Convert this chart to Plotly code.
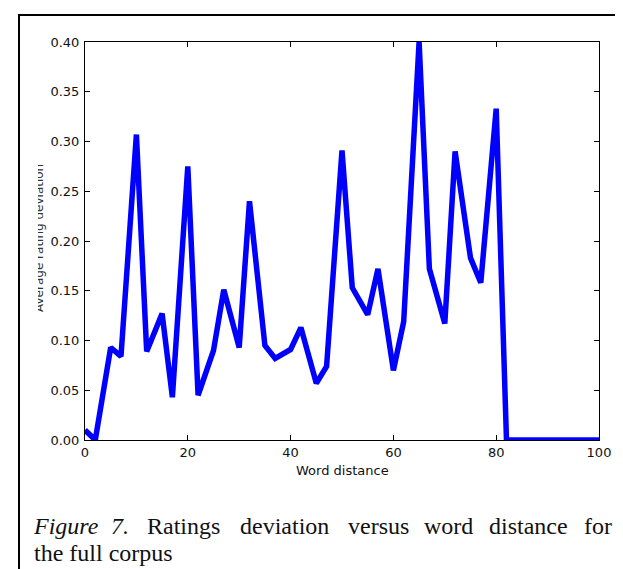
import plotly.graph_objects as go

# ---- data ----
word_distance = [0, 2, 5, 7, 10, 12, 15, 17, 20, 22, 25, 27, 30, 32, 35, 37, 40, 42, 45, 47,
                 50, 52, 55, 57, 60, 62, 65, 67, 70, 72, 75, 77, 80, 82, 85, 87, 90, 92, 95, 97, 100]
rating_deviation = [0.010, 0.000, 0.093, 0.084, 0.307, 0.089, 0.127, 0.043, 0.275, 0.045,
                    0.090, 0.151, 0.093, 0.240, 0.095, 0.082, 0.091, 0.113, 0.057, 0.074,
                    0.291, 0.153, 0.126, 0.172, 0.070, 0.119, 0.400, 0.172, 0.117, 0.290,
                    0.183, 0.158, 0.333, 0.000, 0.000, 0.000, 0.000, 0.000, 0.000, 0.000, 0.000]
x_ticks = [0, 20, 40, 60, 80, 100]
y_ticks = [0.00, 0.05, 0.10, 0.15, 0.20, 0.25, 0.30, 0.35, 0.40]
x_label = "Word distance"
y_label = "Average rating deviation"
caption_line1 = ["<i>Figure</i>", "<i>7.</i>", "Ratings", "deviation", "versus", "word", "distance", "for"]
caption_line2 = "the full corpus"

W, H = 623, 569
L, R, T, B = 77, 591, 34, 432          # plot area in pixels
PW, PH = R - L, B - T

def px(x):
    return (x - L) / PW

def py(y):
    return (B - y) / PH

fig = go.Figure()
fig.add_trace(go.Scatter(x=word_distance, y=rating_deviation, mode="lines",
                         line=dict(color="#0000ff", width=5.5), showlegend=False,
                         hoverinfo="skip"))

tickfont = dict(family="DejaVu Sans", size=13, color="#111111")
axis_common = dict(showline=True, linecolor="black", linewidth=1, mirror="ticks",
                   ticks="inside", ticklen=5, tickwidth=1, tickcolor="black",
                   showgrid=False, zeroline=False, tickfont=tickfont)
fig.update_xaxes(range=[0, 100], tickvals=x_ticks, ticktext=[str(v) for v in x_ticks],
                 **axis_common)
fig.update_yaxes(range=[0, 0.4], tickvals=y_ticks, ticktext=[f"{v:.2f}" for v in y_ticks],
                 ticklabelstandoff=2, **axis_common)

annotations = []
annotations.append(dict(text=x_label, xref="paper", yref="paper", x=px(334), y=py(462),
                        xanchor="center", yanchor="middle", showarrow=False,
                        font=dict(family="DejaVu Sans", size=13, color="#111111")))
annotations.append(dict(text=y_label, xref="paper", yref="paper", x=px(31), y=py(230),
                        xanchor="center", yanchor="middle", showarrow=False, textangle=-90,
                        font=dict(family="DejaVu Sans", size=12, color="#333333")))
# cover (cropped) upper half of the y label glyphs
annotations.append(dict(text=" ", xref="paper", yref="paper", x=px(27), y=py(230),
                        xanchor="center", yanchor="middle", showarrow=False,
                        width=6, height=175, bgcolor="white", borderpad=0, borderwidth=0,
                        font=dict(size=2)))

word_centers = [58, 112, 175, 276, 370, 440, 520, 590]
for w, cx in zip(caption_line1, word_centers):
    annotations.append(dict(text=w, xref="paper", yref="paper", x=px(cx), y=py(518),
                            xanchor="center", yanchor="middle", showarrow=False,
                            font=dict(family="Liberation Serif", size=24, color="#111111")))
annotations.append(dict(text=caption_line2, xref="paper", yref="paper", x=px(24), y=py(545),
                        xanchor="left", yanchor="middle", showarrow=False,
                        font=dict(family="Liberation Serif", size=24, color="#111111")))

fig.update_layout(
    width=W, height=H, autosize=False,
    margin=dict(l=L, r=W - R, t=T, b=H - B, pad=0),
    paper_bgcolor="white", plot_bgcolor="white",
    annotations=annotations,
    shapes=[dict(type="rect", xref="paper", yref="paper",
                 x0=px(11), x1=px(621), y0=py(600), y1=py(7),
                 line=dict(color="black", width=2), layer="below")],
)

fig.write_html("out.html")
